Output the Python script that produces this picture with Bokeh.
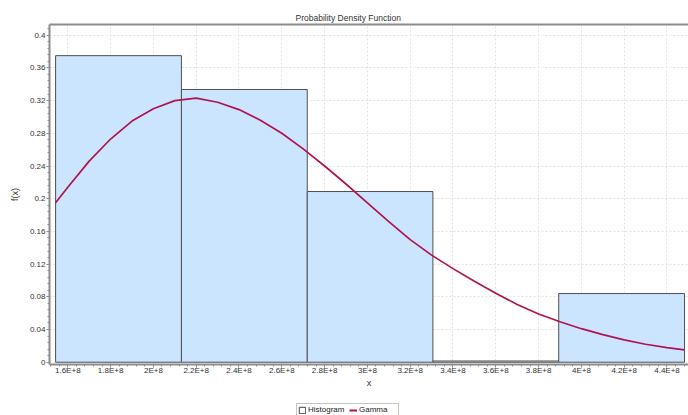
from bokeh.plotting import figure
from bokeh.layouts import column, row
from bokeh.models import (Range1d, FixedTicker, CustomJSTickFormatter, Legend, LegendItem,
                          LinearAxis, Spacer)
from bokeh.embed import file_html
from bokeh.resources import INLINE

# ---- data ----
bin_left = [1.543e8, 2.131e8, 2.719e8, 3.306e8, 3.894e8]
bin_right = [2.131e8, 2.719e8, 3.306e8, 3.894e8, 4.482e8]
hist_density = [0.375, 0.3336, 0.2088, 0.0015, 0.084]

gamma_x = [1.543e8, 1.60e8, 1.70e8, 1.80e8, 1.90e8, 2.00e8, 2.10e8, 2.20e8,
           2.30e8, 2.40e8, 2.50e8, 2.60e8, 2.70e8, 2.80e8, 2.90e8, 3.00e8,
           3.10e8, 3.20e8, 3.30e8, 3.40e8, 3.50e8, 3.60e8, 3.70e8, 3.80e8,
           3.90e8, 4.00e8, 4.10e8, 4.20e8, 4.30e8, 4.40e8, 4.482e8]
gamma_y = [0.195, 0.214, 0.246, 0.273, 0.295, 0.310, 0.320, 0.323,
           0.318, 0.309, 0.296, 0.280, 0.261, 0.240, 0.218, 0.195,
           0.172, 0.150, 0.131, 0.1145, 0.099, 0.0845, 0.0705, 0.0590,
           0.0495, 0.0410, 0.0337, 0.0273, 0.0220, 0.0178, 0.0150]

x_ticks = [1.6e8, 1.8e8, 2.0e8, 2.2e8, 2.4e8, 2.6e8, 2.8e8, 3.0e8,
           3.2e8, 3.4e8, 3.6e8, 3.8e8, 4.0e8, 4.2e8, 4.4e8]
y_ticks = [0.0, 0.04, 0.08, 0.12, 0.16, 0.2, 0.24, 0.28, 0.32, 0.36, 0.4]

title_text = "Probability Density Function"
x_label = "x"
y_label = "f(x)"
legend_labels = ["Histogram", "Gamma"]

FONT = "Liberation Sans"
TXT = "#333333"
AX = "#8c8c8c"
BAR_FILL = "#cce5ff"
BAR_LINE = "#505050"
CURVE = "#b0144f"

x_minor = [x_ticks[0] - 0.2e8 + i * 0.04e8 for i in range(5 * (len(x_ticks) + 1))]
y_minor = [i * 0.008 for i in range(0, 52)]

x_ticker = FixedTicker(ticks=x_ticks, minor_ticks=x_minor)
y_ticker = FixedTicker(ticks=y_ticks, minor_ticks=y_minor)

p = figure(width=688, height=403, output_backend="svg", toolbar_location=None,
           x_range=Range1d(1.5145e8, 4.5005e8), y_range=Range1d(-0.0028, 0.4131),
           min_border_left=49, min_border_right=0, min_border_top=24, min_border_bottom=39,
           background_fill_color="white", border_fill_color="white")

p.title.text = title_text
p.title.text_font = FONT
p.title.text_font_size = "8.5px"
p.title.text_font_style = "normal"
p.title.text_color = TXT
p.title.align = "left"
p.title.offset = 246
p.title.standoff = 3

p.outline_line_color = None

xa = p.below[0]
ya = p.left[0]

# top border line as a bare axis above
top_axis = LinearAxis(ticker=FixedTicker(ticks=[]), axis_line_color=AX, axis_line_width=2,
                      major_tick_line_color=None, minor_tick_line_color=None,
                      major_tick_out=0, minor_tick_out=0, major_label_standoff=0)
p.add_layout(top_axis, "above")

# grid
for g in (p.xgrid, p.ygrid):
    g.grid_line_color = "#e2e2e2"
    g.grid_line_dash = "2 2"
    g.grid_line_width = 1
p.xgrid.ticker = x_ticker
p.ygrid.ticker = y_ticker

# axes
xa.ticker = x_ticker
ya.ticker = y_ticker
xa.formatter = CustomJSTickFormatter(code="""
    const v = Math.round(tick / 1e7) / 10;
    return v.toString() + "E+8";
""")
ya.formatter = CustomJSTickFormatter(code="""
    return parseFloat(tick.toFixed(2)).toString();
""")
for ax in (xa, ya):
    ax.axis_line_color = AX
    ax.axis_line_width = 2
    ax.major_tick_line_color = AX
    ax.minor_tick_line_color = AX
    ax.major_tick_out = 3
    ax.major_tick_in = 0
    ax.minor_tick_out = 2
    ax.minor_tick_in = 0
    ax.major_label_text_font = FONT
    ax.major_label_text_font_size = "8px"
    ax.major_label_text_color = TXT
    ax.axis_label_text_font = FONT
    ax.axis_label_text_font_size = "9px"
    ax.axis_label_text_font_style = "normal"
    ax.axis_label_text_color = TXT

xa.major_label_standoff = -2
ya.major_label_standoff = 1
xa.axis_label = x_label
xa.axis_label_standoff = 0
ya.axis_label = y_label
ya.axis_label_standoff = 7

# histogram bars
p.quad(left=bin_left, right=bin_right, bottom=0, top=hist_density,
       fill_color=BAR_FILL, line_color=BAR_LINE, line_width=1)

# gamma curve
p.line(gamma_x, gamma_y, line_color=CURVE, line_width=1.7, line_join="round")

# ---- legend strip below the chart (series redrawn off-range, legend only) ----
lf = figure(width=112, height=12, output_backend="svg", toolbar_location=None,
            x_axis_type=None, y_axis_type=None,
            x_range=Range1d(0, 1), y_range=Range1d(0, 1),
            min_border_left=0, min_border_right=0, min_border_top=0, min_border_bottom=0,
            background_fill_color="white", border_fill_color="white")
lf.outline_line_color = None
sw = lf.quad(left=bin_left, right=bin_right, bottom=0, top=hist_density,
             fill_color="white", line_color="#444444", line_width=1)
ln = lf.line(gamma_x, gamma_y, line_color=CURVE, line_width=2)

legend = Legend(items=[LegendItem(label=legend_labels[0], renderers=[sw]),
                       LegendItem(label=legend_labels[1], renderers=[ln])],
                orientation="horizontal", location="top_left")
legend.label_text_font = FONT
legend.label_text_font_size = "8px"
legend.label_text_color = "#222222"
legend.label_height = 8
legend.label_width = 38
legend.label_standoff = 2
legend.glyph_height = 8
legend.glyph_width = 8
legend.spacing = 3
legend.padding = 1
legend.margin = 0
legend.border_line_color = "#8c8c8c"
legend.border_line_width = 1
legend.background_fill_color = "white"
legend.background_fill_alpha = 1
lf.add_layout(legend, "center")

layout = column(p, row(Spacer(width=296, height=12), lf, spacing=0), spacing=0)
open("out.html", "w").write(file_html(layout, INLINE))
